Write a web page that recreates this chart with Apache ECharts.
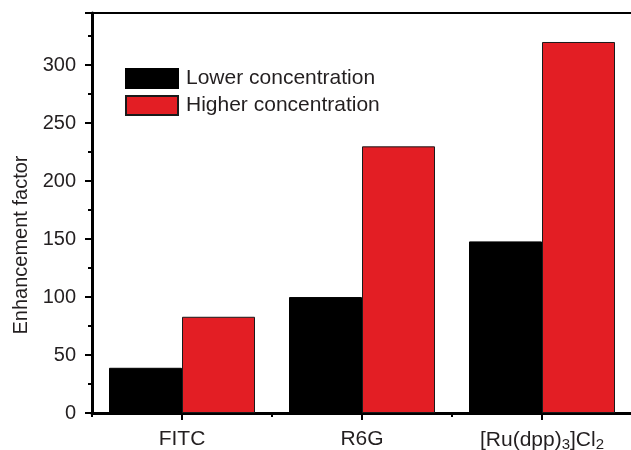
<!DOCTYPE html>
<html>
<head>
<meta charset="utf-8">
<script src="https://cdn.jsdelivr.net/npm/echarts@6/dist/echarts.min.js"></script>
<style>
html,body{margin:0;padding:0;background:#ffffff;}
#chart{width:631px;height:450px;}
</style>
</head>
<body>
<div id="chart"></div>
<script>
var categories = ['FITC', 'R6G', '[Ru(dpp)3]Cl2'];
var seriesNames = ['Lower concentration', 'Higher concentration'];
var lowerValues = [39, 100, 148];
var higherValues = [83, 230, 320];
var yAxisTitle = 'Enhancement factor';

var textColor = '#231f20';
var font = '"Liberation Sans", Arial, sans-serif';

var chart = echarts.init(document.getElementById('chart'), null, {renderer: 'canvas'});

function catLabel(v) {
  if (v === '[Ru(dpp)3]Cl2') {
    return '{m|[Ru(dpp)}{s|3}{m|]Cl}{s|2}';
  }
  return '{m|' + v + '}';
}

var option = {
  backgroundColor: '#ffffff',
  animation: false,
  textStyle: {fontFamily: font, color: textColor},
  grid: {
    left: 92, right: -1, top: 13, bottom: 37,
    containLabel: false, outerBoundsMode: 'none',
    show: true, borderColor: '#000', borderWidth: 2, backgroundColor: 'transparent'
  },
  legend: {
    orient: 'vertical',
    left: 120, top: 63,
    itemWidth: 52, itemHeight: 19, itemGap: 6,
    icon: 'rect',
    data: seriesNames,
    textStyle: {fontFamily: font, fontSize: 21, color: textColor, padding: [0, 0, 0, 3]}
  },
  xAxis: [
    {
      type: 'category',
      data: categories,
      axisLine: {show: true, lineStyle: {color: '#000', width: 3}},
      axisTick: {show: true, alignWithLabel: true, length: 7, lineStyle: {color: '#000', width: 2}},
      axisLabel: {
        interval: 0,
        margin: 16,
        formatter: catLabel,
        rich: {
          m: {fontFamily: font, fontSize: 21, color: textColor},
          s: {fontFamily: font, fontSize: 15, color: textColor, padding: [8, 0, 0, 0]}
        }
      },
      splitLine: {show: false}
    },
    {
      type: 'category',
      data: categories,
      position: 'bottom',
      axisLine: {show: false},
      axisTick: {show: true, length: 4, lineStyle: {color: '#000', width: 2}},
      axisLabel: {show: false},
      splitLine: {show: false}
    }
  ],
  yAxis: {
    type: 'value',
    min: 0, max: 345, interval: 50,
    name: yAxisTitle,
    nameLocation: 'middle',
    nameGap: 59,
    nameRotate: 90,
    nameTextStyle: {fontFamily: font, fontSize: 20, color: textColor, padding: [0, 64, 0, 0]},
    axisLine: {show: true, lineStyle: {color: '#000', width: 3}},
    axisTick: {show: true, length: 7, lineStyle: {color: '#000', width: 2}},
    minorTick: {show: true, splitNumber: 2, length: 4, lineStyle: {color: '#000', width: 2}},
    axisLabel: {
      margin: 16, fontFamily: font, fontSize: 20, color: textColor,
      formatter: function (v) { return v % 50 === 0 ? String(v) : ''; }
    },
    splitLine: {show: false}
  },
  series: [
    {
      name: seriesNames[0], type: 'bar', xAxisIndex: 0,
      data: lowerValues, barWidth: 73, barGap: '0%',
      itemStyle: {color: '#000000', borderColor: '#000', borderWidth: 1}
    },
    {
      name: seriesNames[1], type: 'bar', xAxisIndex: 0,
      data: higherValues, barWidth: 73, barGap: '0%',
      itemStyle: {color: '#e31e24', borderColor: '#1a1a1a', borderWidth: 1}
    }
  ]
};
chart.setOption(option);
</script>
</body>
</html>
